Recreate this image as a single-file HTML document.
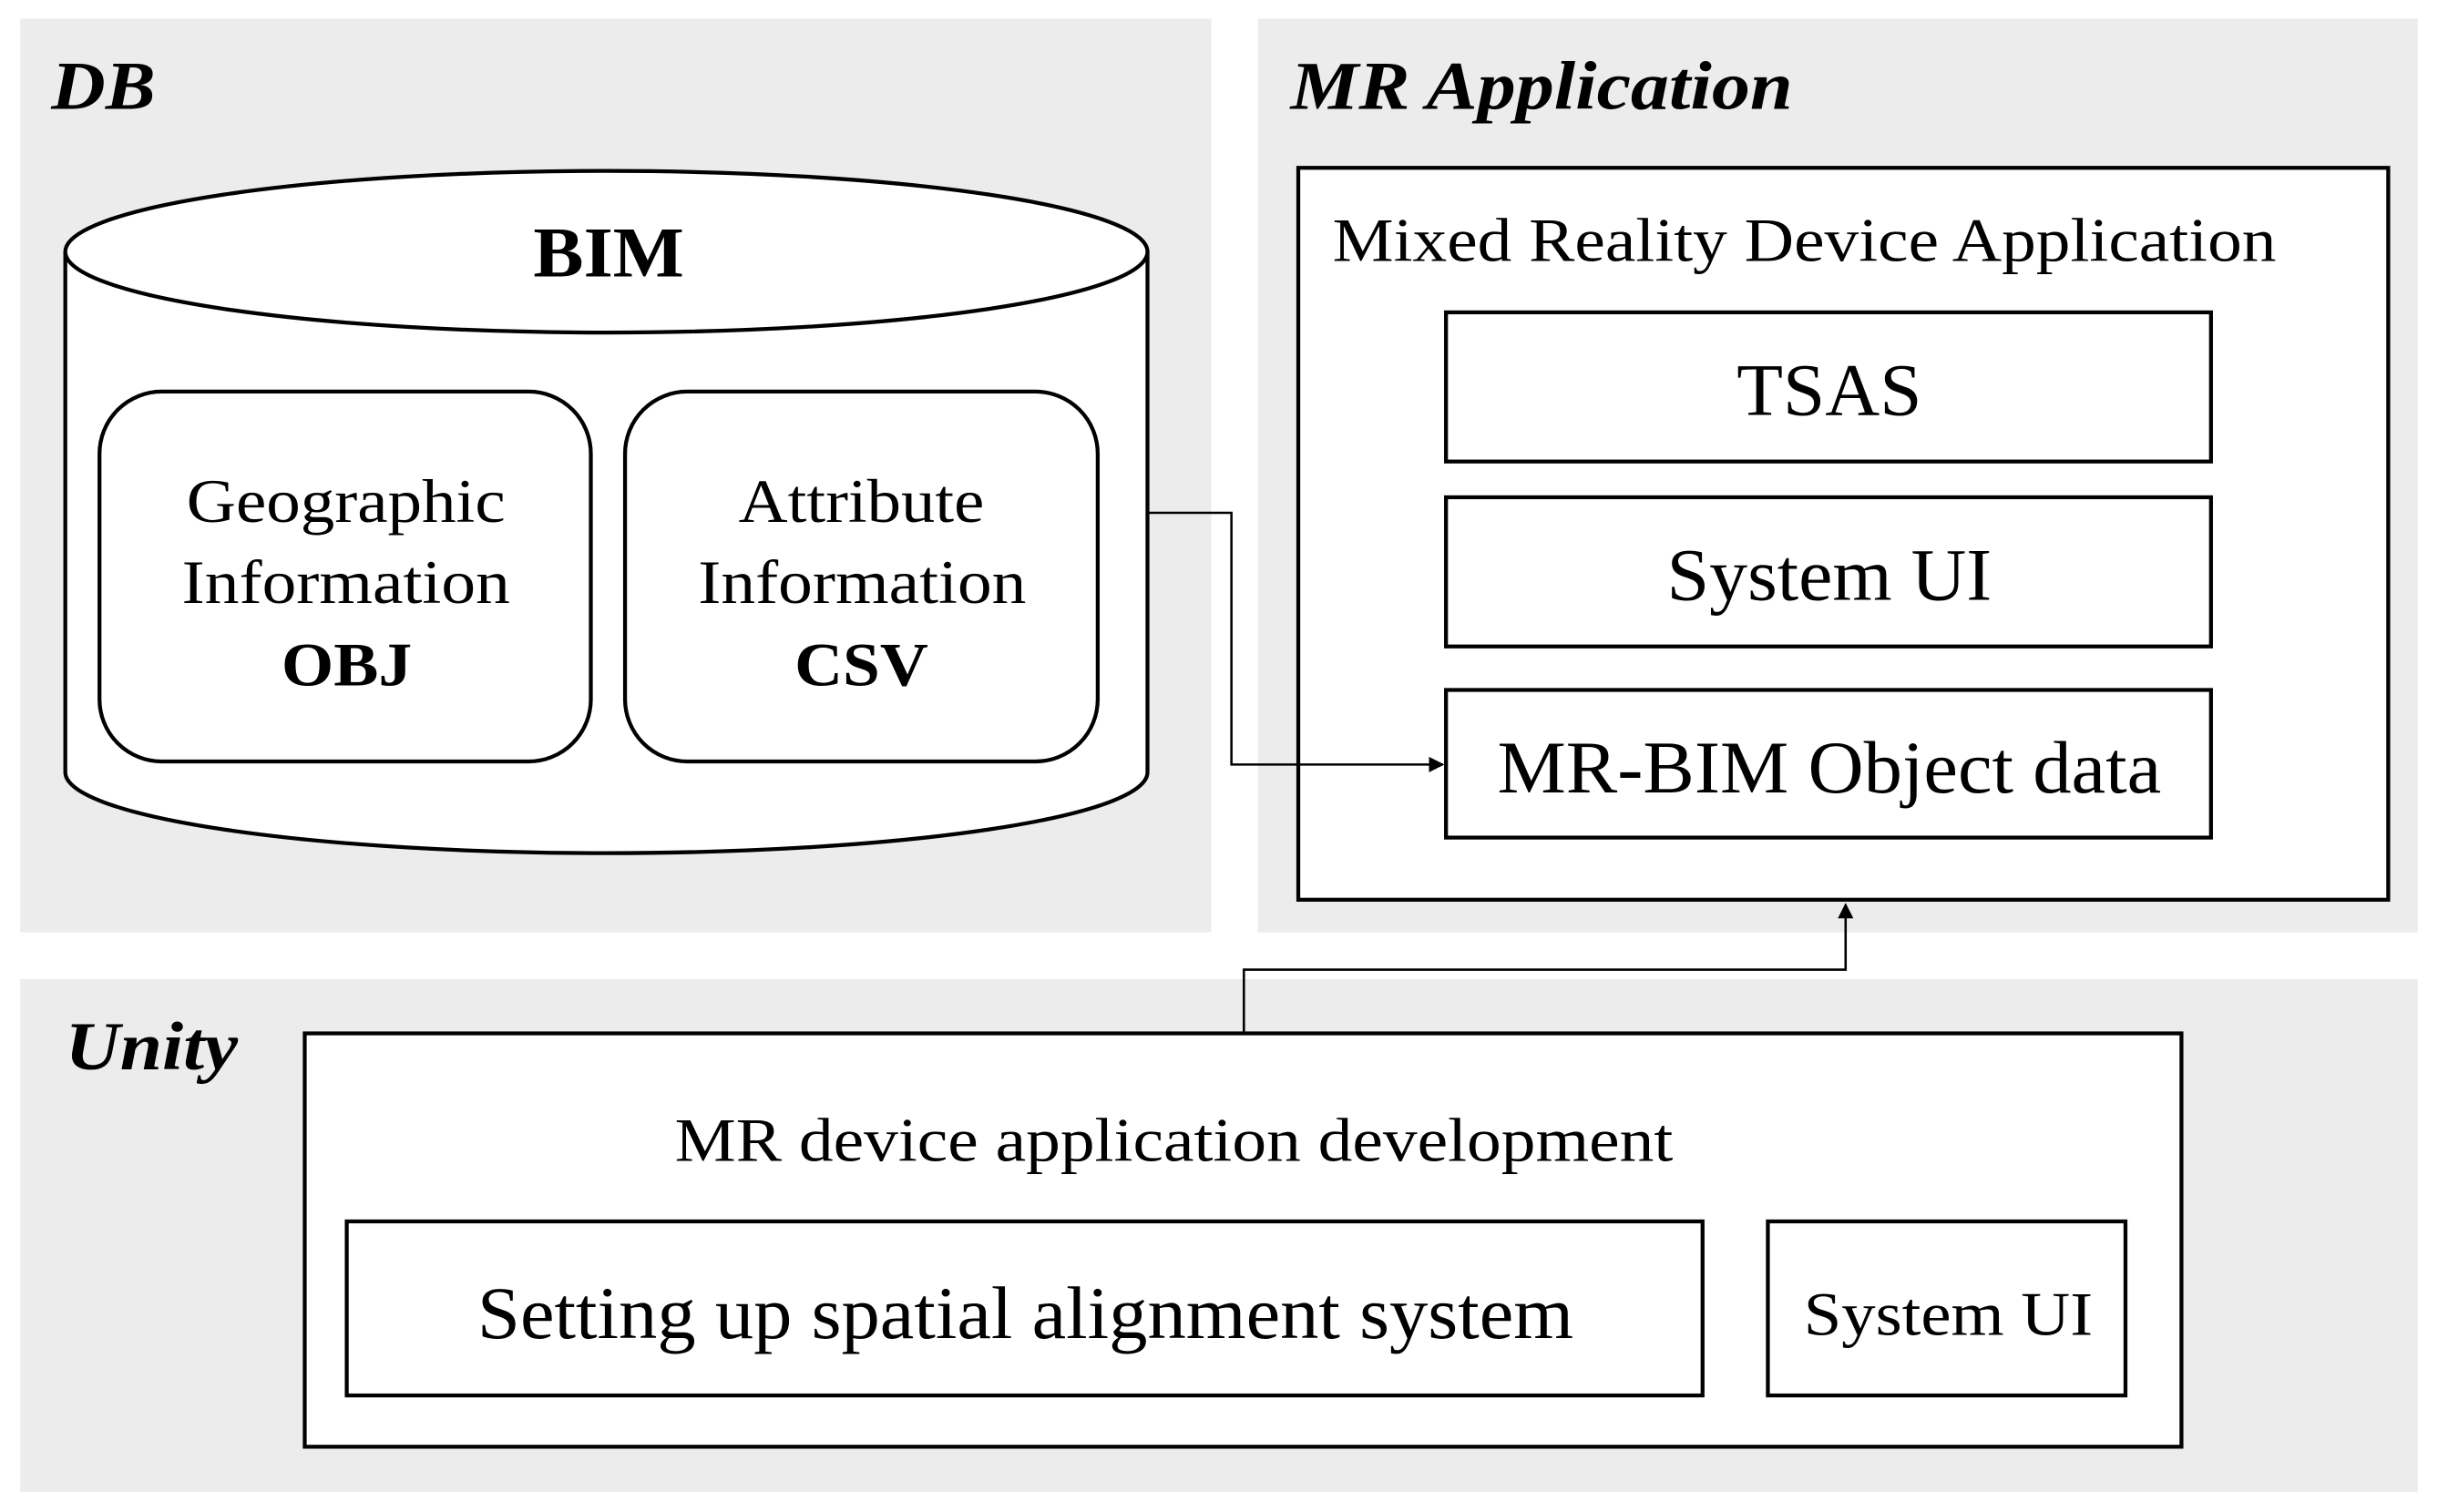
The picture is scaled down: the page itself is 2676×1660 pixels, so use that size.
<!DOCTYPE html>
<html><head><meta charset="utf-8"><style>
html,body{margin:0;padding:0;background:#fff;}
svg{display:block;}
text{font-family:"Liberation Serif",serif;fill:#000;}
</style></head><body>
<svg width="2676" height="1660" viewBox="0 0 1568 973" preserveAspectRatio="none" xmlns="http://www.w3.org/2000/svg">
<defs><marker id="ah" markerWidth="10" markerHeight="10" refX="9" refY="5" orient="auto" markerUnits="userSpaceOnUse"><path d="M0,0 L10,5 L0,10 z" fill="#000"/></marker></defs>
<rect width="1568" height="973" fill="#fff"/>
<rect x="13" y="12" width="766" height="588" fill="#ececec"/>
<rect x="809" y="12" width="746" height="588" fill="#ececec"/>
<rect x="13" y="630" width="1542" height="330" fill="#ececec"/>
<text x="33" y="70" font-size="44" font-weight="bold" font-style="italic" textLength="67" lengthAdjust="spacingAndGlyphs">DB</text>
<text x="830" y="70" font-size="44" font-weight="bold" font-style="italic" textLength="323" lengthAdjust="spacingAndGlyphs">MR Application</text>
<text x="42" y="688" font-size="44" font-weight="bold" font-style="italic" textLength="111" lengthAdjust="spacingAndGlyphs">Unity</text>
<path d="M42,162 L42,497 A348,52 0 0 0 738,497 L738,162" fill="#fff" stroke="#000" stroke-width="2.5"/>
<ellipse cx="390" cy="162" rx="348" ry="52" fill="#fff" stroke="#000" stroke-width="2.5"/>
<text x="343" y="178" font-size="46" font-weight="bold" textLength="97" lengthAdjust="spacingAndGlyphs">BIM</text>
<rect x="64" y="252" width="316" height="238" rx="40" fill="#fff" stroke="#000" stroke-width="2.5"/>
<rect x="402" y="252" width="304" height="238" rx="40" fill="#fff" stroke="#000" stroke-width="2.5"/>
<text x="120" y="336" font-size="40" textLength="205" lengthAdjust="spacingAndGlyphs">Geographic</text>
<text x="117" y="388" font-size="40" textLength="211" lengthAdjust="spacingAndGlyphs">Information</text>
<text x="181" y="441" font-size="40" font-weight="bold" textLength="84" lengthAdjust="spacingAndGlyphs">OBJ</text>
<text x="475" y="336" font-size="40" textLength="158" lengthAdjust="spacingAndGlyphs">Attribute</text>
<text x="449" y="388" font-size="40" textLength="211" lengthAdjust="spacingAndGlyphs">Information</text>
<text x="511" y="441" font-size="40" font-weight="bold" textLength="86" lengthAdjust="spacingAndGlyphs">CSV</text>
<rect x="835" y="108" width="701" height="471" fill="#fff" stroke="#000" stroke-width="2.5"/>
<text x="857" y="168" font-size="40" textLength="607" lengthAdjust="spacingAndGlyphs">Mixed Reality Device Application</text>
<rect x="930" y="201" width="492" height="96" fill="#fff" stroke="#000" stroke-width="2.5"/>
<rect x="930" y="320" width="492" height="96" fill="#fff" stroke="#000" stroke-width="2.5"/>
<rect x="930" y="444" width="492" height="95" fill="#fff" stroke="#000" stroke-width="2.5"/>
<text x="1117" y="267" font-size="48" textLength="119" lengthAdjust="spacingAndGlyphs">TSAS</text>
<text x="1072" y="386" font-size="48" textLength="209" lengthAdjust="spacingAndGlyphs">System UI</text>
<text x="963" y="510" font-size="48" textLength="427" lengthAdjust="spacingAndGlyphs">MR-BIM Object data</text>
<polyline points="738,330 792,330 792,492 928,492" fill="none" stroke="#000" stroke-width="1.5" marker-end="url(#ah)"/>
<rect x="196" y="665" width="1207" height="266" fill="#fff" stroke="#000" stroke-width="2.5"/>
<text x="434" y="747" font-size="40" textLength="642" lengthAdjust="spacingAndGlyphs">MR device application development</text>
<rect x="223" y="786" width="872" height="112" fill="#fff" stroke="#000" stroke-width="2.5"/>
<rect x="1137" y="786" width="230" height="112" fill="#fff" stroke="#000" stroke-width="2.5"/>
<text x="307" y="861" font-size="48" textLength="705" lengthAdjust="spacingAndGlyphs">Setting up spatial alignment system</text>
<text x="1160" y="859" font-size="40" textLength="186" lengthAdjust="spacingAndGlyphs">System UI</text>
<polyline points="800,665 800,624 1187,624 1187,582" fill="none" stroke="#000" stroke-width="1.5" marker-end="url(#ah)"/>
</svg>
</body></html>
